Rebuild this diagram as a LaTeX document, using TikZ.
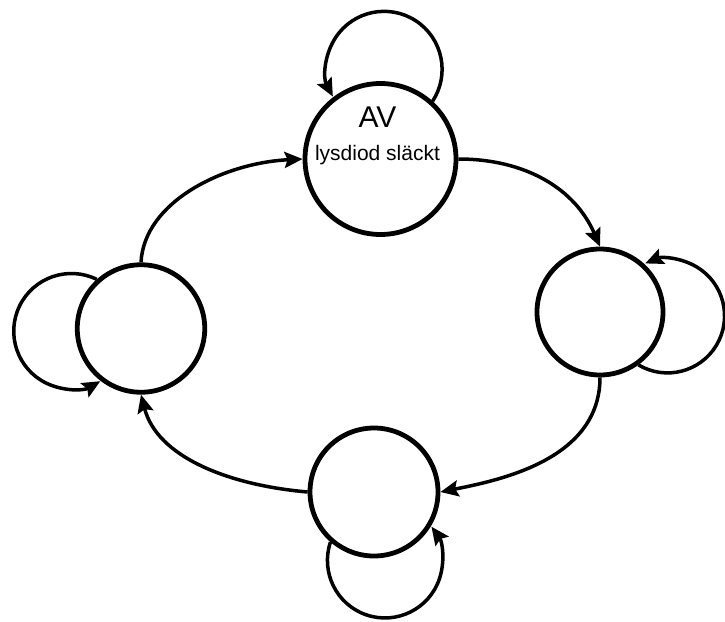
\documentclass[tikz,border=0pt]{standalone}
\usepackage{fontspec}
\setmainfont{Liberation Sans}
\usetikzlibrary{arrows.meta}
\begin{document}
\begin{tikzpicture}[x=1pt,y=-1pt,
  state/.style={circle,draw,line width=4.8pt,inner sep=0pt,fill=white},
  edge/.style={line width=3.5pt,-{Stealth[length=18pt,width=16pt,inset=3pt]}},
]
\useasboundingbox (0,0) rectangle (725,621);

% states
\node[state,minimum size=151pt]   (off)   at (380.5,159) {};
\node[state,minimum size=126pt]   (east)  at (600,312)   {};
\node[state,minimum size=128pt]   (south) at (374,492)   {};
\node[state,minimum size=127.5pt] (west)  at (141,328.5) {};

% labels of the "off" state
\node[font=\fontsize{30}{36}\selectfont,anchor=base,inner sep=0pt] (offname)
  at ([xshift=-3pt,yshift=32pt]off.center) {AV};
\node[font=\fontsize{21}{25}\selectfont,anchor=base,inner sep=0pt] (offdesc)
  at ([xshift=-3pt,yshift=-1.6pt]off.center) {lysdiod släckt};

% transitions around the cycle
\draw[edge] (off.east)   .. controls +(67,0)   and +(-25,-58) .. (east.north);
\draw[edge] (east.south) .. controls +(0,82)   and +(60,-12)  .. (south.east);
\draw[edge] (south.west) .. controls +(-80,-7) and +(16,62)   .. (west.south);
\draw[edge] (west.north) .. controls +(3,-60)  and +(-80,4)   .. (off.west);

% self loops
\draw[edge] (off.48)     arc[start angle=33.2,  end angle=-208, radius=58];
\draw[edge] (east.-54)   arc[start angle=120.7, end angle=-113, radius=57];
\draw[edge] (south.-131) arc[start angle=198.6, end angle=-36,  radius=57.5];
\draw[edge] (west.132)   arc[start angle=-64,   end angle=-300, radius=57.7];
\end{tikzpicture}
\end{document}
